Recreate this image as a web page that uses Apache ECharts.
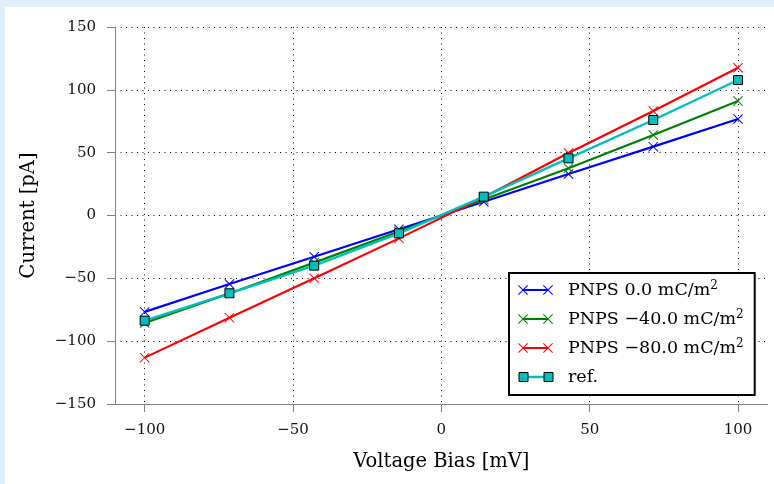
<!DOCTYPE html>
<html>
<head>
<meta charset="utf-8">
<script src="https://cdn.jsdelivr.net/npm/echarts@6/dist/echarts.min.js"></script>
<style>
  html, body { margin: 0; padding: 0; background: #dfeefa; }
  #panel { position: absolute; left: 5px; top: 7px; width: 769px; height: 477px; background: #ffffff; }
  #chart { position: absolute; left: 0; top: 0; width: 774px; height: 484px; }
</style>
</head>
<body>
<div id="panel"></div>
<div id="chart"></div>
<script>
// ---- data ----
const voltageBias = [-100, -71.43, -42.86, -14.29, 14.29, 42.86, 71.43, 100];
const pnps0 = [-76.7, -54.5, -32.8, -11.0, 11.0, 33.0, 54.8, 76.8];
const pnps40 = [-85.5, -62.0, -37.5, -12.8, 12.8, 37.6, 64.0, 91.1];
const pnps80 = [-113.1, -81.3, -50.0, -18.2, 14.5, 49.7, 83.2, 117.6];
const refValues = [-83.7, -61.9, -39.9, -14.2, 15.0, 45.5, 76.0, 107.8];
const seriesNames = ['PNPS 0.0 mC/m2', 'PNPS \u221240.0 mC/m2', 'PNPS \u221280.0 mC/m2', 'ref.'];
const xTickValues = [-100, -50, 0, 50, 100];
const yTickValues = [-150, -100, -50, 0, 50, 100, 150];
const xTitle = 'Voltage Bias [mV]';
const yTitle = 'Current [pA]';

// ---- styling ----
const FONT = 'DejaVu Serif';
const colors = ['#0000ff', '#008000', '#ff0000', '#00bfbf'];
const crossPath = 'path://M0,7L7,0L50,43L93,0L100,7L57,50L100,93L93,100L50,57L7,100L0,93L43,50Z';
const xIcon = 'path://M0,0.7L0.7,0L5,4.3L9.3,0L10,0.7L5.7,5L10,9.3L9.3,10L5,5.7L0.7,10L0,9.3L4.3,5Z' +
  'M25,0.7L25.7,0L30,4.3L34.3,0L35,0.7L30.7,5L35,9.3L34.3,10L30,5.7L25.7,10L25,9.3L29.3,5Z' +
  'M5,3.9L30,3.9L30,6.1L5,6.1Z M45,10L45,10Z';
const refLineIcon = 'path://M0,0L0,0Z M5,3.8L30,3.8L30,6.2L5,6.2Z M45,10L45,10Z';
const refSquareIcon = 'path://M0,0L0,0Z M0.5,0.5L9.5,0.5L9.5,9.5L0.5,9.5Z M25.5,0.5L34.5,0.5L34.5,9.5L25.5,9.5Z M45,10L45,10Z';

function fmt(v) { return v < 0 ? '\u2212' + Math.abs(v) : String(v); }
function pairs(ys) { return voltageBias.map((x, i) => [x, ys[i]]); }

const allY = [pnps0, pnps40, pnps80, refValues];
const series = allY.map((ys, i) => {
  const isRef = i === 3;
  return {
    name: seriesNames[i],
    type: 'line',
    data: pairs(ys),
    symbol: isRef ? 'rect' : crossPath,
    symbolSize: isRef ? 9 : 10,
    showSymbol: true,
    showAllSymbol: true,
    lineStyle: { color: colors[i], width: isRef ? 2.4 : 2.2 },
    itemStyle: isRef ? { color: colors[i], borderColor: '#000', borderWidth: 1 }
                     : { color: colors[i], borderWidth: 0 },
    emphasis: { disabled: true },
    z: 2 + i
  };
});

const legendText = {
  fontFamily: FONT, fontSize: 17.5, color: '#000', lineHeight: 20,
  rich: { sup: { fontFamily: FONT, fontSize: 12, lineHeight: 12, verticalAlign: 'top', color: '#000' } }
};

const chart = echarts.init(document.getElementById('chart'), null, { renderer: 'canvas' });
chart.setOption({
  animation: false,
  backgroundColor: 'transparent',
  grid: { left: 115, right: 6.3, top: 27, bottom: 80, containLabel: false },
  xAxis: {
    type: 'value', min: -110, max: 110,
    name: xTitle, nameLocation: 'middle', nameGap: 48,
    nameTextStyle: { fontFamily: FONT, fontSize: 19.5, color: '#000' },
    axisLine: { show: true, onZero: false, lineStyle: { color: '#808080', width: 1 } },
    axisTick: { show: true, inside: false, length: 8, customValues: xTickValues, lineStyle: { color: '#808080', width: 1 } },
    axisLabel: { customValues: xTickValues, margin: 19, fontFamily: FONT, fontSize: 15, color: '#111', formatter: fmt },
    splitLine: { show: true, customValues: xTickValues, lineStyle: { color: '#000', width: 1, type: [1, 4.5] } }
  },
  yAxis: {
    type: 'value', min: -150, max: 150, interval: 50,
    name: yTitle, nameLocation: 'middle', nameGap: 76, nameRotate: 90,
    nameTextStyle: { fontFamily: FONT, fontSize: 19.5, color: '#000' },
    axisLine: { show: true, onZero: false, lineStyle: { color: '#808080', width: 1 } },
    axisTick: { show: true, inside: false, length: 8, lineStyle: { color: '#808080', width: 1 } },
    axisLabel: { margin: 19, fontFamily: FONT, fontSize: 15, color: '#111', formatter: fmt },
    splitLine: { show: true, lineStyle: { color: '#000', width: 1, type: [1, 4.5] } }
  },
  legend: [
    {
      orient: 'vertical', left: 509, top: 273,
      padding: [7, 11, 8, 9], itemGap: 9, itemWidth: 45, itemHeight: 10,
      backgroundColor: '#ffffff', borderColor: '#000', borderWidth: 2, borderRadius: 0,
      selectedMode: false, z: 10,
      textStyle: legendText,
      formatter: name => name.replace(/m2$/, 'm{sup|2}'),
      data: [
        { name: seriesNames[0], icon: xIcon, itemStyle: { color: colors[0], borderWidth: 0 } },
        { name: seriesNames[1], icon: xIcon, itemStyle: { color: colors[1], borderWidth: 0 } },
        { name: seriesNames[2], icon: xIcon, itemStyle: { color: colors[2], borderWidth: 0 } },
        { name: seriesNames[3], icon: refLineIcon, itemStyle: { color: colors[3], borderWidth: 0 } }
      ]
    },
    {
      orient: 'vertical', left: 518, top: 367,
      padding: 0, itemWidth: 45, itemHeight: 10,
      selectedMode: false, z: 11,
      textStyle: legendText,
      formatter: () => ' ',
      data: [
        { name: seriesNames[3], icon: refSquareIcon, itemStyle: { color: colors[3], borderColor: '#000', borderWidth: 1 } }
      ]
    }
  ],
  series: series
});
</script>
</body>
</html>
